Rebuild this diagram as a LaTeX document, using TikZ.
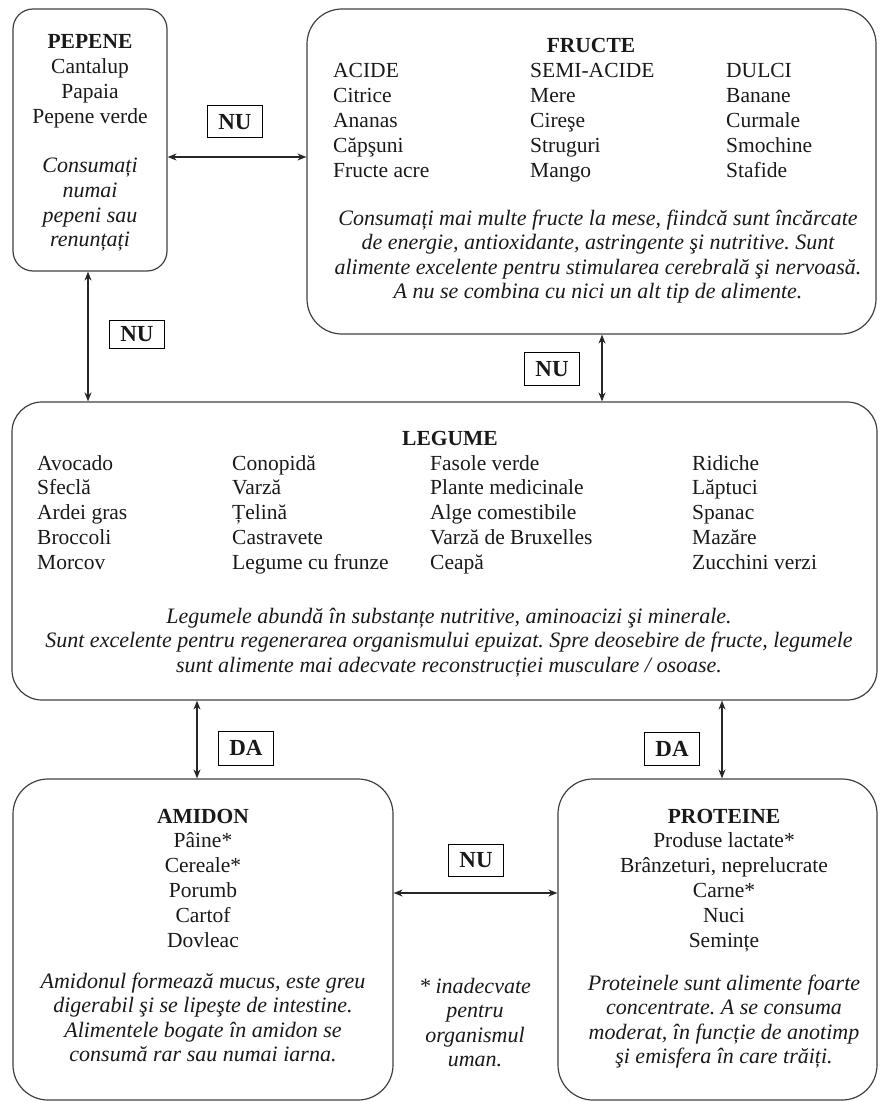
\documentclass[tikz,border=0pt]{standalone}
\usepackage{fontspec}
\setmainfont{Liberation Serif}
\usetikzlibrary{arrows.meta}
\frenchspacing
\newcommand{\bodysize}{\fontsize{21.5}{24.8}\selectfont}
\newcommand{\itsize}{\fontsize{22}{24.6}\selectfont\itshape}
\newcommand{\mycol}[2][c]{\begin{tabular}[t]{@{}#1@{}}#2\end{tabular}}
\begin{document}
\begin{tikzpicture}[x=1pt,y=-1pt,
  box/.style={draw=black!75, line width=1.2pt, rounded corners=#1, inner sep=0pt},
  lbl/.style={draw=black, line width=1pt, inner sep=0pt, minimum width=55pt, minimum height=31pt, font=\fontsize{23}{26}\selectfont\bfseries, text=black!90},
  conn/.style={{Stealth[length=9pt,width=7pt]}-{Stealth[length=9pt,width=7pt]}, line width=1.3pt, black!85},
  txt/.style={inner sep=0pt, anchor=base, font=\bodysize, text=black!90},
  itx/.style={txt, font=\itsize},
  lft/.style={txt, anchor=base west}]
\useasboundingbox (0,0) rectangle (880,1102);
% boxes
\node[box=20pt, minimum width=154pt, minimum height=262pt] (pep) at (90,140) {};
\node[box=35pt, minimum width=569pt, minimum height=325pt] (fru) at (591.5,171.5) {};
\node[box=30pt, minimum width=865pt, minimum height=298pt] (leg) at (444.5,551) {};
\node[box=35pt, minimum width=380pt, minimum height=321pt] (ami) at (203,939.5) {};
\node[box=35pt, minimum width=319pt, minimum height=321pt] (pro) at (717.5,939.5) {};
% helper coordinates
\coordinate (y157) at (0,157);
\coordinate (x88) at (88,0);
\coordinate (x602) at (602,0);
\coordinate (x197) at (197,0);
\coordinate (x722) at (722,0);
\coordinate (y893) at (0,893);
% connectors
\draw[conn] (pep.east |- y157) -- (fru.west |- y157);
\draw[conn] (pep.south -| x88) -- (leg.north -| x88);
\draw[conn] (fru.south -| x602) -- (leg.north -| x602);
\draw[conn] (leg.south -| x197) -- (ami.north -| x197);
\draw[conn] (leg.south -| x722) -- (pro.north -| x722);
\draw[conn] (ami.east |- y893) -- (pro.west |- y893);
% labels
\node[lbl, minimum height=32pt] (nu1) at (235,122) {NU};
\node[lbl, minimum height=28pt] (nu2) at (137,334) {NU};
\node[lbl, minimum height=33pt] (nu3) at (552,369) {NU};
\node[lbl, minimum height=34pt] (da1) at (246,748) {DA};
\node[lbl, minimum height=33pt] (da2) at (672,749) {DA};
\node[lbl, minimum height=32pt] (nu4) at (476,860) {NU};
% PEPENE
\node[txt] (pept) at (90,49) {\mycol{\textbf{PEPENE}\\Cantalup\\Papaia\\Pepene verde}};
\node[itx] (pepi) at (90,173) {\mycol{Consumați\\numai\\pepeni sau\\renunțați}};
% FRUCTE
\node[txt] (frut) at (591,53) {\textbf{FRUCTE}};
\node[lft] (fru1) at (333,78) {\mycol[l]{ACIDE\\Citrice\\Ananas\\Căpşuni\\Fructe acre}};
\node[lft] (fru2) at (530,78) {\mycol[l]{SEMI-ACIDE\\Mere\\Cireşe\\Struguri\\Mango}};
\node[lft] (fru3) at (726,78) {\mycol[l]{DULCI\\Banane\\Curmale\\Smochine\\Stafide}};
\node[itx] (frui) at (598,225) {\mycol{Consumați mai multe fructe la mese, fiindcă sunt încărcate\\de energie, antioxidante, astringente şi nutritive. Sunt\\alimente excelente pentru stimularea cerebrală şi nervoasă.\\A nu se combina cu nici un alt tip de alimente.}};
% LEGUME
\node[txt] (legt) at (450,445) {\textbf{LEGUME}};
\node[lft] (leg1) at (37,470) {\mycol[l]{Avocado\\Sfeclă\\Ardei gras\\Broccoli\\Morcov}};
\node[lft] (leg2) at (232,470) {\mycol[l]{Conopidă\\Varză\\Țelină\\Castravete\\Legume cu frunze}};
\node[lft] (leg3) at (430,470) {\mycol[l]{Fasole verde\\Plante medicinale\\Alge comestibile\\Varză de Bruxelles\\Ceapă}};
\node[lft] (leg4) at (692,470) {\mycol[l]{Ridiche\\Lăptuci\\Spanac\\Mazăre\\Zucchini verzi}};
\node[itx] (legi) at (449,623) {\mycol{Legumele abundă în substanțe nutritive, aminoacizi şi minerale.\\Sunt excelente pentru regenerarea organismului epuizat. Spre deosebire de fructe, legumele\\sunt alimente mai adecvate reconstrucției musculare / osoase.}};
% AMIDON
\node[txt] (amit) at (203,823) {\mycol{\textbf{AMIDON}\\Pâine*\\Cereale*\\Porumb\\Cartof\\Dovleac}};
\node[itx] (amii) at (203,988) {\mycol{Amidonul formează mucus, este greu\\digerabil şi se lipeşte de intestine.\\Alimentele bogate în amidon se\\consumă rar sau numai iarna.}};
% PROTEINE
\node[txt] (prot) at (724,823) {\mycol{\textbf{PROTEINE}\\Produse lactate*\\Brânzeturi, neprelucrate\\Carne*\\Nuci\\Semințe}};
\node[itx] (proi) at (724,990) {\mycol{Proteinele sunt alimente foarte\\concentrate. A se consuma\\moderat, în funcție de anotimp\\şi emisfera în care trăiți.}};
% footnote
\node[itx] (note) at (475,993) {\mycol{* inadecvate\\pentru\\organismul\\uman.}};
\end{tikzpicture}
\end{document}
